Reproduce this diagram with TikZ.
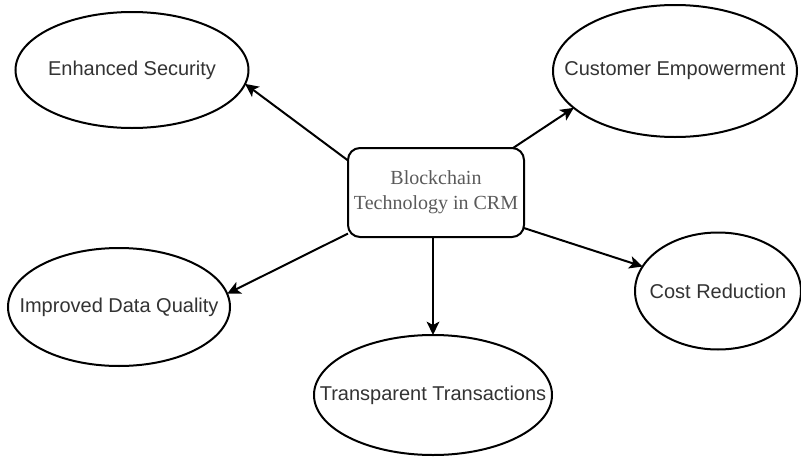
\documentclass[tikz,border=0pt]{standalone}
\usepackage{fontspec}
\setmainfont{Liberation Sans}
\newfontfamily\hubfont{Liberation Serif}
\usetikzlibrary{shapes.geometric,arrows.meta}
\definecolor{labelgray}{HTML}{333333}
\definecolor{hubgray}{HTML}{5A5A5A}
\tikzset{
  benefit/.style={ellipse, draw=black, line width=1.5pt, fill=white, inner sep=0pt, outer sep=0pt,
    text=labelgray, font=\fontsize{15}{18}\selectfont},
  hub/.style={rectangle, rounded corners=9pt, draw=black, line width=1.5pt, fill=white,
    minimum width=132pt, minimum height=66.75pt, inner sep=0pt, outer sep=0pt, align=center,
    text=hubgray, font=\hubfont\fontsize{15}{18.75}\selectfont},
  link/.style={line width=1.5pt, -{Stealth[length=10pt, width=9.5pt, inset=2.5pt]}}
}
% label whose width does not enlarge the ellipse around it
\newcommand{\flatlabel}[1]{\makebox[0pt][c]{#1}}
\begin{document}
\begin{tikzpicture}[x=0.75pt, y=-0.75pt]
  \useasboundingbox (0,0) rectangle (801,468);

  % central topic
  \node[hub] (crm) at (436,192.5) {Blockchain\\Technology in CRM};

  % surrounding benefits
  \node[benefit, minimum width=174.75pt, minimum height=87pt] (sec) at (132,70) {\flatlabel{Enhanced Security}};
  \node[benefit, minimum width=183pt, minimum height=99pt] (emp) at (675,71) {\flatlabel{Customer Empowerment}};
  \node[benefit, minimum width=166.5pt, minimum height=88.5pt] (qual) at (119,307) {\flatlabel{Improved Data Quality}};
  \node[benefit, minimum width=124.5pt, minimum height=87.75pt] (cost) at (718,291) {\flatlabel{Cost Reduction}};
  \node[benefit, minimum width=178.5pt, minimum height=90pt] (trans) at (433,395) {\flatlabel{Transparent Transactions}};

  % connectors from the hub
  \draw[link] (crm.160.5) -- (sec.-7.2);
  \draw[link] (crm.30.6) -- (emp.200.8);
  \draw[link] (crm.205.7) -- (qual.7.9);
  \draw[link] (crm.south -| trans.north) -- (trans.north);
  \draw[link] (crm.-22.2) -- (cost.162.5);
\end{tikzpicture}
\end{document}
